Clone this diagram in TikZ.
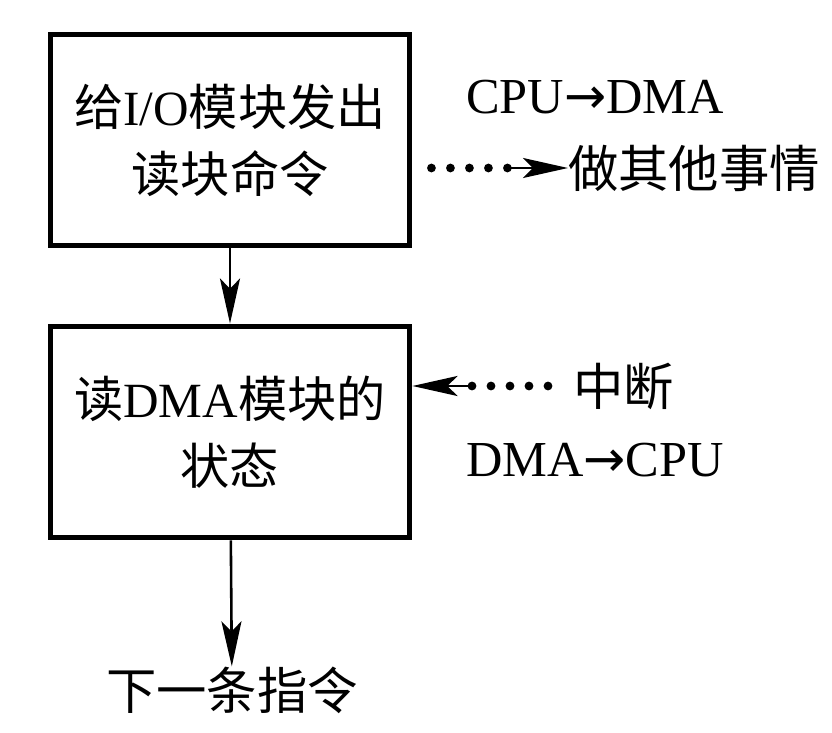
\documentclass[tikz,border=0pt]{standalone}
\usepackage{fontspec}
\setmainfont{Liberation Serif}
\newfontfamily\cjk{Noto Sans CJK SC}
\newfontfamily\arrowfont{DejaVu Sans}
\usetikzlibrary{arrows.meta}
\newcommand{\zh}[1]{{\cjk #1}}
\newcommand{\toarrow}{{\arrowfont →}}

\begin{document}
\begin{tikzpicture}[x=0.03cm,y=-0.03cm,
  box/.style={draw,line width=5pt,minimum width=10.77cm,minimum height=6.33cm,
    align=center,font=\fontsize{42}{57}\selectfont},
  lbl/.style={inner sep=0pt,font=\fontsize{43}{48}\selectfont},
  flow/.style={line width=2.2pt,-{Stealth[length=1.35cm,width=0.6cm,inset=0.3cm]}},
  dots/.style={line width=7.5pt,line cap=round,dash pattern=on 0pt off 0.57cm}]
  \useasboundingbox (0,0) rectangle (832,733);
  % the two steps
  \node[box] (read) at (230,140) {\zh{给}I/O\zh{模块发出}\\\zh{读块命令}};
  \node[box] (state) at (230,432) {\zh{读}DMA\zh{模块的}\\\zh{状态}};
  \node[lbl] (next) at (232,690) {\zh{下一条指令}};
  % side notes
  \node[lbl] (cpudma) at (595,97) {CPU\toarrow DMA};
  \node[lbl,anchor=west] (other) at (568,168) {\zh{做其他事情}};
  \node[lbl,anchor=west] (intr) at (573,386) {\zh{中断}};
  \node[lbl] (dmacpu) at (595,460) {DMA\toarrow CPU};
  \coordinate (d1) at (508,168);
  \coordinate (d2) at (548,386);
  \coordinate (d3) at (472,386);
  % connectors
  \draw[flow] (read) -- (state);
  \draw[flow] (state) -- (next);
  \draw[dots] (read.east |- d1) ++(19,0) -- ++(78,0);
  \draw[flow] (d1) -- (other.west);
  \draw[dots] (d2) -- ++(-78,0);
  \draw[flow] (d3) -- (state.east |- d3);
\end{tikzpicture}
\end{document}
